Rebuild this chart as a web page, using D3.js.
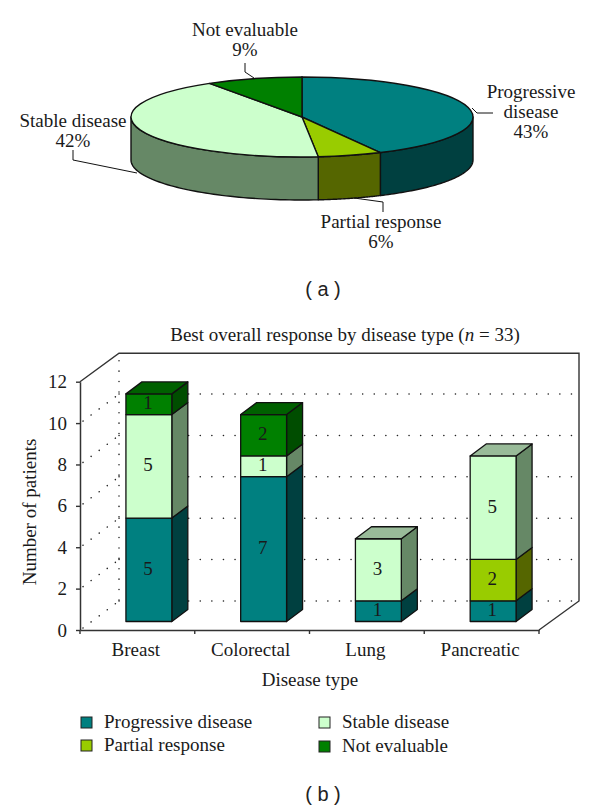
<!DOCTYPE html>
<html><head><meta charset="utf-8">
<script src="https://cdn.jsdelivr.net/npm/d3@7"></script>
<style>
html,body{margin:0;padding:0;background:#fff}
svg{display:block}
text{font-family:"Liberation Serif",serif;font-size:19px;fill:#1a1a1a}
.cap{font-family:"Liberation Sans",sans-serif;font-size:20px;fill:#222}
</style></head><body>
<svg id="c" width="600" height="810"></svg>
<script>
const pieLabels=[["Progressive","disease","43%"],["Partial response","6%"],["Stable disease","42%"],["Not evaluable","9%"]];
const pieValues=[14,2,14,3];
const seriesNames=["Progressive disease","Partial response","Stable disease","Not evaluable"];
const faceColors=["#008080","#99cc00","#ccffcc","#008000"];
const sideColors=["#004040","#556600","#668866","#004d00"];
const topColors=["#006666","#7a9900","#99bb99","#006000"];
const categories=["Breast","Colorectal","Lung","Pancreatic"];
const progressive=[5,7,1,1];
const partial=[0,0,0,2];
const stable=[5,1,3,5];
const notEvaluable=[1,2,0,0];
const yTicks=[0,2,4,6,8,10,12];

const svg=d3.select("#c");
const ink="#111";

/* ---------- (a) pie ---------- */
const cx=302,cy=117,rx=171,ry=40,depth=43;
const arcs=d3.pie().sort(null)(pieValues);
const pg=svg.append("g");
const ex=a=>cx+rx*Math.sin(a), ey=a=>cy-ry*Math.cos(a);
const lineXY=d3.line();
function sideD(s,e){
  const a0=Math.max(s,Math.PI/2),a1=Math.min(e,Math.PI*1.5);
  if(a1<=a0) return null;
  const as=d3.range(0,61).map(i=>a0+(a1-a0)*i/60);
  const pts=as.map(a=>[ex(a),ey(a)]).concat(as.slice().reverse().map(a=>[ex(a),ey(a)+depth]));
  return lineXY(pts)+"Z";
}
pg.selectAll(".side").data(arcs).join("path").attr("class","side")
  .attr("d",d=>sideD(d.startAngle,d.endAngle))
  .attr("fill",(d,i)=>sideColors[i]).attr("stroke",ink).attr("stroke-width",1.4).attr("stroke-linejoin","round");
const unitArc=d3.arc().innerRadius(0).outerRadius(rx);
pg.append("g").attr("transform",`translate(${cx},${cy}) scale(1,${ry/rx})`)
  .selectAll("path").data(arcs).join("path").attr("d",unitArc)
  .attr("fill",(d,i)=>faceColors[i]).attr("stroke",ink).attr("stroke-width",1.4)
  .attr("vector-effect","non-scaling-stroke");
const leaders=[[[472,108],[477,113],[493,113]],[[354,198],[383,202],[383,212]],[[137,173],[73,160],[73,150]],[[254,78],[245,72],[245,63]]];
pg.selectAll(".lead").data(leaders).join("path").attr("class","lead")
  .attr("d",d=>lineXY(d)).attr("fill","none").attr("stroke",ink).attr("stroke-width",1);
const labelPos=[[531,98,20],[381,228,20],[73,127,20],[245,36,20]];
pieLabels.forEach((ls,i)=>{
  const [x,y,h]=labelPos[i];
  const t=pg.append("text").attr("y",y).attr("text-anchor","middle");
  ls.forEach((s,j)=>t.append("tspan").attr("x",x).attr("dy",j?h:0).text(s));
});
svg.append("text").attr("class","cap").attr("x",323).attr("y",296).attr("text-anchor","middle").attr("xml:space","preserve").text("( a )");

/* ---------- (b) 3D stacked bars ---------- */
const x0=80,x1=539,y0=630,yTop=381.7,dx=39,dy=29,bdx=16,bdy=12;
const x=d3.scaleBand().domain(categories).range([x0,x1]).paddingInner(.6).paddingOuter(.3);
const y=d3.scaleLinear().domain([0,12]).range([y0,yTop]);
const stackRows=categories.map((c,i)=>({c,[seriesNames[0]]:progressive[i],[seriesNames[1]]:partial[i],[seriesNames[2]]:stable[i],[seriesNames[3]]:notEvaluable[i]}));
const stacked=d3.stack().keys(seriesNames)(stackRows);
const bg=svg.append("g");

// walls
bg.append("path").attr("fill","none").attr("stroke","#333").attr("stroke-width",1.4)
  .attr("d",lineXY([[x0,yTop],[x0+dx,yTop-dy+.5],[x1+dx+1,yTop-dy+.5],[x1+dx+1,y0-dy],[x1,y0]]));
// dotted grid
const dots=bg.append("g").attr("fill","none").attr("stroke","#222").attr("stroke-width",1.5).attr("stroke-linecap","round");
yTicks.slice(0,-1).forEach(t=>{
  dots.append("line").attr("x1",x0+dx).attr("x2",x1+dx).attr("y1",y(t)-dy).attr("y2",y(t)-dy).attr("stroke-dasharray","0.1 11.5");
});
yTicks.slice(0,-1).forEach(t=>{
  dots.append("line").attr("x1",x0+3).attr("x2",x0+dx).attr("y1",y(t)-2).attr("y2",y(t)-dy).attr("stroke-dasharray","0.1 10");
});
dots.append("line").attr("x1",x0+dx).attr("x2",x0+dx).attr("y1",yTop-dy+8).attr("y2",y0-dy).attr("stroke-dasharray","0.1 10.3");

// axes
const axL=d3.axisLeft(y).tickValues(yTicks).tickSize(4).tickSizeOuter(0).tickPadding(9);
const axB=d3.axisBottom(x).tickSize(0).tickPadding(13);
const gy=svg.append("g").attr("transform",`translate(${x0},0)`).call(axL);
const gx=svg.append("g").attr("transform",`translate(0,${y0})`).call(axB);
const tickEdge=[x0].concat(categories.map(c=>x(c)-x.step()*.3+x.step()));
gx.selectAll(".edge").data(tickEdge).join("line").attr("class","edge").attr("x1",d=>d).attr("x2",d=>d).attr("y1",0).attr("y2",4).attr("stroke","#333").attr("stroke-width",1.4);
gx.selectAll(".tick text").attr("dx",-1.5);
[gy,gx].forEach(g=>{
  g.selectAll("path.domain").attr("stroke","#333").attr("stroke-width",1.5);
  g.selectAll(".tick line").attr("stroke","#333").attr("stroke-width",1.4);
  g.selectAll("text").style("font-family",'"Liberation Serif",serif').style("font-size","19px").attr("fill","#1a1a1a");
});

// bars
const barsG=svg.append("g").attr("transform",`translate(${(dx-bdx)/2},${-(dy-bdy)/2})`);
const bw=x.bandwidth();
stacked.forEach((s,k)=>{
  s.forEach((d,i)=>{
    if(d[1]===d[0]) return;
    const c=categories[i],L=x(c),R=L+bw,T=y(d[1]),B=y(d[0]);
    const g=barsG.append("g").attr("stroke",ink).attr("stroke-width",1.3).attr("stroke-linejoin","round");
    g.append("path").attr("d",lineXY([[R,T],[R+bdx,T-bdy],[R+bdx,B-bdy],[R,B]])+"Z").attr("fill",sideColors[k]);
    g.append("rect").attr("x",L).attr("y",T).attr("width",bw).attr("height",B-T).attr("fill",faceColors[k]);
    const topmost=d3.sum(stacked,q=>q[i][1]-q[i][0])===d[1];
    if(topmost) g.append("path").attr("d",lineXY([[L,T],[L+bdx,T-bdy],[R+bdx,T-bdy],[R,T]])+"Z").attr("fill",topColors[k]);
    barsG.append("text").attr("x",(L+R)/2-1).attr("y",(T+B)/2+5).attr("text-anchor","middle").text(d[1]-d[0]);
  });
});

// titles
const title=svg.append("text").attr("x",345).attr("y",341).attr("text-anchor","middle");
title.append("tspan").text("Best overall response by disease type (");
title.append("tspan").attr("font-style","italic").text("n");
title.append("tspan").text(" = 33)");
svg.append("text").attr("transform","translate(36,512) rotate(-90)").attr("text-anchor","middle").text("Number of patients");
svg.append("text").attr("x",310).attr("y",686).attr("text-anchor","middle").text("Disease type");

// legend
const legendPos=[[81,723],[81,746],[319,723],[319,747]];
const lg=svg.append("g");
seriesNames.forEach((n,i)=>{
  const [lx,ly]=legendPos[i];
  lg.append("rect").attr("x",lx).attr("y",ly-6).attr("width",11).attr("height",11).attr("fill",faceColors[i]).attr("stroke","#222").attr("stroke-width",1);
  lg.append("text").attr("x",lx+23).attr("y",ly+5).text(n);
});
svg.append("text").attr("class","cap").attr("x",323).attr("y",801).attr("text-anchor","middle").attr("xml:space","preserve").text("( b )");
</script>
</body></html>
